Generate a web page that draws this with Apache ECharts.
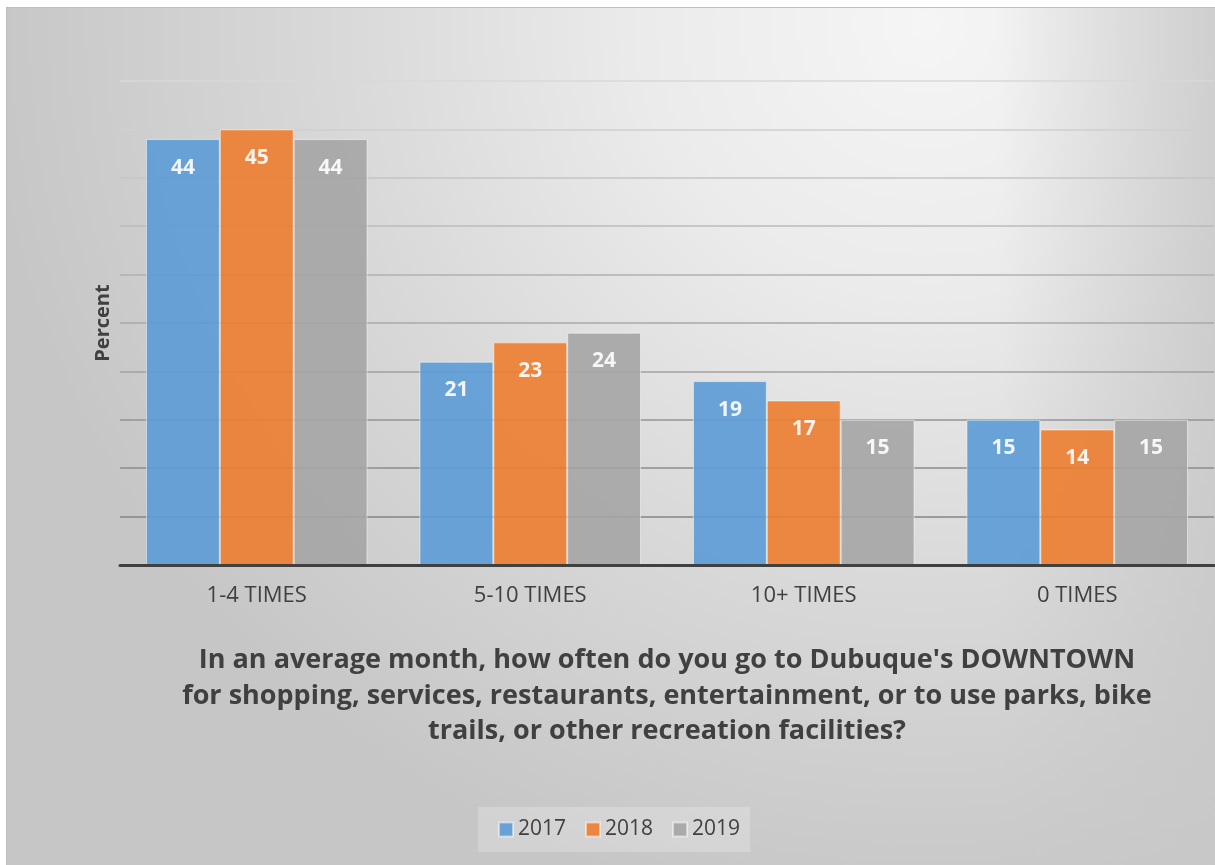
<!DOCTYPE html>
<html>
<head>
<meta charset="utf-8">
<script src="https://cdn.jsdelivr.net/npm/echarts@6/dist/echarts.min.js"></script>
<style>
html,body{margin:0;padding:0;background:#fff;width:1215px;height:865px;overflow:hidden;}
#chart{position:absolute;left:6px;top:7px;width:1209px;height:858px;
 border-top:1px solid #bdbdbd;border-left:1px solid #bdbdbd;box-sizing:border-box;
 background:
  linear-gradient(to right, rgba(200,200,200,0) 82%, rgba(200,200,200,0.8) 100%),
  radial-gradient(ellipse 78% 105% at 76% 2%, #f5f5f5 0%, #ebebeb 30%, #dadada 60%, #c6c6c6 100%);}
</style>
</head>
<body>
<div id="chart"></div>
<script>
const categories = ['1-4 TIMES', '5-10 TIMES', '10+ TIMES', '0 TIMES'];
const seriesNames = ['2017', '2018', '2019'];
const values2017 = [44, 21, 19, 15];
const values2018 = [45, 23, 17, 14];
const values2019 = [44, 24, 15, 15];
const yTicks = [0, 5, 10, 15, 20, 25, 30, 35, 40, 45, 50];
const titleText = "In an average month, how often do you go to Dubuque's DOWNTOWN\nfor shopping, services, restaurants, entertainment, or to use parks, bike\ntrails, or other recreation facilities?";

const colors = ['#5b9bd5', '#ed7d31', '#a5a5a5'];
const gridColors = ['#777', '#858585', '#8d8d8d', '#959595', '#a0a0a0', '#a8a8a8', '#b0b0b0', '#bbbbbb', '#c4c4c4', '#cfcfcf', '#d8d8d8'];
const allValues = [values2017, values2018, values2019];

const chart = echarts.init(document.getElementById('chart'));
const font = "'Open Sans', sans-serif";
chart.setOption({
  backgroundColor: 'transparent',
  textStyle: { fontFamily: font },
  title: {
    text: titleText,
    left: 655,
    textAlign: 'center',
    top: 630,
    textStyle: { fontFamily: font, fontSize: 27, fontWeight: 'bold', color: '#404040', lineHeight: 35.5 }
  },
  legend: {
    data: seriesNames,
    left: 471,
    top: 799,
    itemWidth: 14,
    itemHeight: 14,
    itemGap: 19,
    padding: [12, 10, 12, 20],
    backgroundColor: 'rgba(255,255,255,0.22)',
    textStyle: { fontFamily: font, fontSize: 21, color: '#404040' },
    icon: 'rect'
  },
  grid: { left: 113, right: 1, top: 73, bottom: 300, containLabel: false },
  xAxis: {
    type: 'category',
    data: categories,
    axisLine: { lineStyle: { color: '#404040', width: 3 } },
    axisTick: { show: false },
    axisLabel: { fontFamily: font, fontSize: 22, color: '#404040', margin: 20 },
    z: 10
  },
  yAxis: {
    type: 'value',
    min: yTicks[0],
    max: yTicks[yTicks.length - 1],
    interval: yTicks[1] - yTicks[0],
    name: 'Percent',
    nameLocation: 'middle',
    nameGap: 7,
    nameTextStyle: { fontFamily: font, fontSize: 20, fontWeight: 'bold', color: '#404040' },
    axisLabel: { show: false },
    axisLine: { show: false },
    axisTick: { show: false },
    splitLine: { lineStyle: { color: gridColors, width: 1.5 } }
  },
  series: seriesNames.map((name, i) => ({
    name: name,
    type: 'bar',
    data: allValues[i],
    barGap: '0%',
    barCategoryGap: '19%',
    itemStyle: { color: colors[i], opacity: 0.9, borderColor: 'rgba(255,255,255,0.55)', borderWidth: 1 },
    label: {
      show: true,
      position: 'insideTop',
      distance: 18,
      fontFamily: font,
      fontSize: 21,
      fontWeight: 'bold',
      color: '#ffffff'
    }
  }))
});
</script>
</body>
</html>
